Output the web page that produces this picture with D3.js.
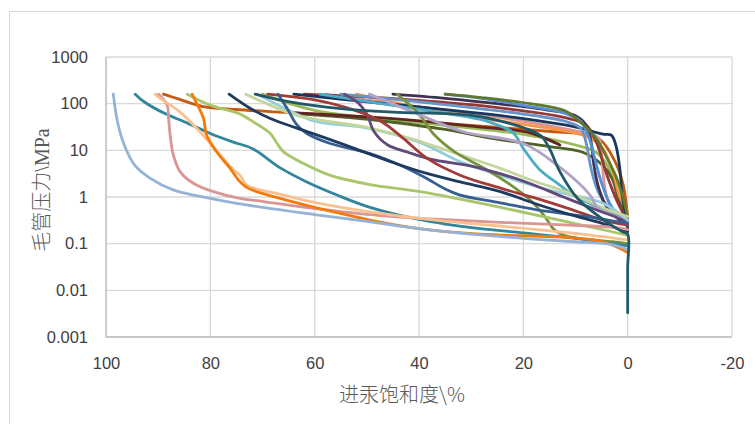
<!DOCTYPE html>
<html><head><meta charset="utf-8">
<script src="https://cdn.jsdelivr.net/npm/d3@7"></script>
<style>body{margin:0;background:#fff}svg{display:block}</style>
</head><body>
<svg id="c" width="755" height="424"></svg>
<script>
// x: mercury saturation (%), y: capillary pressure (MPa)
const xTicks = [100, 80, 60, 40, 20, 0, -20];
const xTickLabels = ["100", "80", "60", "40", "20", "0", "-20"];
const yTicks = [0.001, 0.01, 0.1, 1, 10, 100, 1000];
const yTickLabels = ["0.001", "0.01", "0.1", "1", "10", "100", "1000"];
const xTitle = "进汞饱和度\\%";
const yTitleCJK = "毛管压力";
const yTitleUnit = "\\MPa";

const sBandBrownOrange = [[89,160],[86,125],[81.6,88],[75,75],[64.9,64],[46.5,47],[28.1,33],[14.1,25],[9.5,23],[5.3,17],[2.5,6],[0.85,1.8],[0,0.35]];
const sBandGreen = [[70,160],[60,72],[45,45],[30,30],[20,22],[10,13],[6,9],[4,5],[2,1.5],[0.5,0.5],[0,0.25]];
const sBandOliveLow = [[64.5,62],[55,52],[45,40],[35,28],[26,18],[15,12],[8.5,9],[5,5],[3,2.5],[2,1.1],[0.8,0.5],[0,0.3]];
const sMaroon = [[64.5,64],[50,52],[40,43],[30,33],[18.7,23.6],[13,13]];
const sBandPink = [[58,160],[45,100],[30,62],[20,42],[10,26],[7,22],[5.5,18],[5,8],[4.5,2],[3.5,0.7],[0,0.3]];
const sBandOrange = [[52,160],[42,92],[30,52],[20,36],[12,26],[8,20],[5,12],[3,4],[1.5,1],[0,0.5]];
const sBandRed = [[62,160],[50,140],[40,118],[30,95],[20,70],[12,50],[8,35],[6,15],[4,3],[2,0.8],[0,0.3]];
const sBandNavy = [[64,160],[50,110],[40,85],[30,65],[20,48],[12,35],[8,28],[6,24],[4.5,22],[3.1,21],[2.2,12],[1.5,4],[1,1],[0.3,0.4],[0,0.2]];
const sBandMidBlue = [[55,160],[40,110],[30,82],[20,60],[12,42],[9,30],[8,15],[7,4],[5.5,1.2],[3,0.5],[0,0.3]];
const sBandDarkPurple = [[45,160],[35,130],[25,100],[15,72],[10,55],[8,35],[7,15],[6.5,5],[5.5,1.5],[4,0.6],[2,0.35],[0,0.25]];
const sTopBlue = [[35,160],[28,130],[20,92],[12,62],[9,42],[7.5,20],[6.5,8],[5,2],[3,0.6],[0,0.3]];
const sTopOlive = [[35,160],[28,135],[18.7,100],[12,70],[9.5,44],[7.5,28],[5.8,16.5],[4,7],[2.2,2.7],[0.8,0.9],[0,0.35]];
const sDarkTeal = [[71.4,160],[65,110],[55,78],[45,66],[30,56],[22,36],[18,25],[16.5,20],[15,11],[13,3.5],[9.6,0.93],[5,0.35],[1,0.18],[0,0.16],[0,0.03],[0,0.0033]];
const sAqua = [[59,160],[45,92],[35,62],[27,42],[22,24],[20,11],[17,4],[13,1.8],[10.4,1.1],[5,0.55],[0,0.3]];
const sLightAqua = [[71,160],[65,72],[60,42],[50,30],[40,15],[32.1,5.7],[24.4,2.9],[15,1.4],[4.7,0.73],[0,0.32]];
const sPaleGreen = [[73.2,160],[70,110],[63.4,56],[49.4,30],[41.7,18],[32.1,8],[24.4,4.1],[18,2.2],[11,1.2],[5,0.6],[0,0.38]];
const sOlive = [[44.2,160],[40,60],[37.3,23],[33,9],[28.1,4.5],[23,2],[18.7,0.86],[16,0.4],[14.1,0.2],[12,0.15],[9.5,0.13],[3,0.11],[0,0.1]];
const sLavender = [[49.5,160],[41,65],[31.5,25],[20,14],[13.5,4.8],[7.2,1.1],[5.8,0.6],[0.8,0.32],[0,0.25]];
const sPurple = [[54.3,160],[51.5,100],[50,60],[48.6,25],[46,13],[42,9],[37.8,6.5],[30,4.6],[25,3.3],[19,2],[12.3,1.0],[5.8,0.52],[0.8,0.31],[0,0.25]];
const sRedDesc = [[69,160],[60,120],[52,70],[47,40],[43,18],[38.5,6.8],[32,2.9],[24.4,1.55],[17,0.9],[11,0.55],[4.7,0.32],[0,0.25]];
const sBlue = [[67,160],[65.3,80],[63.4,35],[61.5,23],[57,14],[49.4,8.5],[43.6,4.8],[38.5,2.5],[35.3,1.55],[32.1,1.1],[24.4,0.75],[17.4,0.53],[7.8,0.38],[0,0.27]];
const sNavy = [[76.4,160],[72.4,80],[68.5,48],[63.4,30],[57,17],[49.4,8.3],[45,5.5],[38.5,3.2],[32.1,2.1],[24.4,1.3],[17.4,0.7],[11,0.42],[4.7,0.27],[0,0.18]];
const sLightGreen = [[84.4,160],[80,93],[74.3,60],[72.4,45],[68.5,23],[67.2,14],[66,9.4],[62.1,5.2],[57,2.9],[49.4,1.85],[39.8,1.3],[24.4,0.6],[12,0.3],[3,0.18],[0,0.15]];
const sTeal = [[94.4,160],[92.7,110],[88.8,62],[85,41],[80,23],[75.6,15],[72,11],[66.6,4.2],[61.5,2.1],[55.7,1.1],[49.4,0.6],[40,0.33],[34.6,0.26],[28.3,0.21],[20,0.17],[10,0.13],[0,0.09]];
const sPink = [[90,160],[88.3,95],[88,48],[87.7,21],[87.1,8],[85.8,3.5],[83.2,1.95],[79.4,1.3],[74.3,0.93],[69.8,0.8],[60.2,0.57],[47.4,0.4],[28.3,0.3],[11,0.25],[2,0.22],[0,0.2]];
const sPeach = [[90.6,160],[89.6,130],[85.8,66],[82,25],[78.1,8],[76.2,4.5],[74.3,2.9],[73,1.8],[66.6,1.15],[60.3,0.78],[49.4,0.48],[34.6,0.3],[28.3,0.26],[11,0.17],[0,0.12]];
const sOrange = [[83.5,160],[82.6,100],[81.3,48],[80.7,21],[78.8,9.3],[76.2,4.1],[74.6,2.3],[73.2,1.65],[71.1,1.3],[63.4,0.75],[57,0.5],[49.4,0.32],[40,0.21],[28.3,0.16],[11,0.135],[4.7,0.11],[0,0.065]];
const sLightBlue = [[98.6,160],[97.8,41],[96.5,13],[94.5,4.8],[91.5,2.5],[87,1.4],[80,0.93],[75,0.73],[60,0.42],[50,0.3],[40,0.21],[30,0.16],[20,0.13],[10,0.11],[3,0.095],[0,0.075]];

const seriesList = [
  sBandBrownOrange, sBandGreen, sBandOliveLow, sMaroon, sBandPink, sBandOrange, sBandRed,
  sBandNavy, sBandMidBlue, sBandDarkPurple, sTopBlue, sTopOlive, sAqua, sLightAqua,
  sPaleGreen, sOlive, sLavender, sPurple, sRedDesc, sBlue, sNavy, sLightGreen,
  sTeal, sPink, sPeach, sOrange, sLightBlue, sDarkTeal
];
const seriesColors = [
  "#C55A11", "#9BBB59", "#4F6228", "#632523", "#D99694", "#F79646", "#953735",
  "#17375E", "#6A93C8", "#403152", "#558ED5", "#5F7A2E", "#4BACC6", "#93CDDD",
  "#C3D69B", "#77933C", "#B3A2C7", "#604A7B", "#A33B39", "#376092", "#1F3A5F", "#A9C66B",
  "#31859C", "#D99694", "#FAC090", "#F47A0C", "#95B3D7", "#215968"
];

const svg = d3.select("#c");
svg.append("rect").attr("x", 9.5).attr("y", 11.5).attr("width", 800).attr("height", 500)
  .attr("fill", "#fff").attr("stroke", "#D9D9D9").attr("stroke-width", 1);

const L = 106, R = 732, T = 57, B = 337;
const x = d3.scaleLinear().domain([100, -20]).range([L, R]);
const y = d3.scaleLog().domain([0.001, 1000]).range([B, T]);

const g = svg.append("g");
g.selectAll("line.hy").data(yTicks).join("line")
  .attr("x1", L).attr("x2", R).attr("y1", d => y(d)).attr("y2", d => y(d))
  .attr("stroke", "#D9D9D9").attr("stroke-width", 1.3);
g.selectAll("line.vx").data(xTicks).join("line")
  .attr("y1", T).attr("y2", B).attr("x1", d => x(d)).attr("x2", d => x(d))
  .attr("stroke", "#D9D9D9").attr("stroke-width", 1.3);
g.append("line").attr("x1", L).attr("x2", L).attr("y1", T).attr("y2", B).attr("stroke", "#BFBFBF").attr("stroke-width", 1.3);
g.append("line").attr("x1", L).attr("x2", R).attr("y1", B).attr("y2", B).attr("stroke", "#BFBFBF").attr("stroke-width", 1.3);

const xAxis = d3.axisBottom(x).tickValues(xTicks).tickSize(0).tickPadding(0).tickFormat((d, i) => xTickLabels[i]);
const xa = svg.append("g").attr("transform", `translate(0,${B})`).call(xAxis);
xa.select(".domain").remove();
xa.selectAll("text").attr("dy", null).attr("y", 32).attr("font-family", "Liberation Sans, Arial, sans-serif")
  .attr("font-size", 16.5).attr("fill", "#404040");

const yAxis = d3.axisLeft(y).tickValues(yTicks).tickSize(0).tickPadding(0).tickFormat((d, i) => yTickLabels[i]);
const ya = svg.append("g").attr("transform", `translate(${L},0)`).call(yAxis);
ya.select(".domain").remove();
ya.selectAll("text").attr("x", -18).attr("font-family", "Liberation Sans, Arial, sans-serif")
  .attr("font-size", 16.5).attr("fill", "#404040");

const line = d3.line().x(d => x(d[0])).y(d => y(d[1])).curve(d3.curveCatmullRom.alpha(0.5));
const cg = svg.append("g").attr("fill", "none").attr("stroke-width", 2.8)
  .attr("stroke-linecap", "round").attr("stroke-linejoin", "round");
cg.selectAll("path").data(seriesList).join("path")
  .attr("d", line).attr("stroke", (d, i) => seriesColors[i]);

svg.append("text").attr("x", 402).attr("y", 402).attr("text-anchor", "middle")
  .attr("font-family", "Noto Sans CJK SC, sans-serif").attr("font-size", 20).attr("font-weight", 300)
  .attr("fill", "#595959").text(xTitle);
const yt = svg.append("text").attr("transform", "translate(49,190) rotate(-90)").attr("text-anchor", "middle")
  .attr("font-size", 20).attr("fill", "#595959");
yt.append("tspan").attr("font-family", "Noto Sans CJK SC, sans-serif").attr("font-weight", 300).text(yTitleCJK);
yt.append("tspan").attr("font-family", "Liberation Serif, serif").text(yTitleUnit);
</script>
</body></html>
